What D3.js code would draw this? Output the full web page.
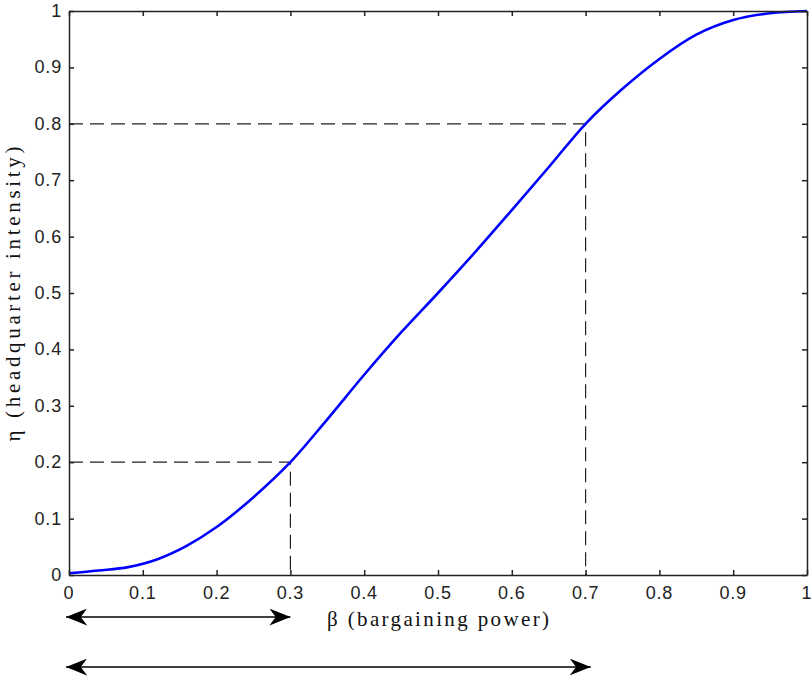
<!DOCTYPE html>
<html>
<head>
    <title>Headquarter intensity vs bargaining power</title>
    <script src="https://d3js.org/d3.v7.min.js"></script>
    <style>
        body { margin: 0; background: #fff; }
        .tick-label { font-family: "Liberation Sans", Arial, sans-serif; font-size: 18px; fill: #222; letter-spacing: 0.8px; }
        .axis-label { font-family: "Liberation Serif", "Times New Roman", serif; font-size: 21px; fill: #111; }
    </style>
</head>
<body>
    <div id="chart"></div>

    <script>
        // data
        var beta = [0, 0.04, 0.08, 0.12, 0.16, 0.2, 0.25, 0.3, 0.35, 0.4, 0.45, 0.5,
                    0.55, 0.6, 0.65, 0.7, 0.75, 0.8, 0.85, 0.9, 0.95, 1];
        var eta  = [0.003, 0.008, 0.014, 0.028, 0.052, 0.085, 0.138, 0.2, 0.276, 0.355, 0.43, 0.5,
                    0.572, 0.647, 0.723, 0.8, 0.862, 0.915, 0.958, 0.984, 0.996, 1.0];
        var xTicks = [0, 0.1, 0.2, 0.3, 0.4, 0.5, 0.6, 0.7, 0.8, 0.9, 1];
        var yTicks = [0, 0.1, 0.2, 0.3, 0.4, 0.5, 0.6, 0.7, 0.8, 0.9, 1];
        // dashed guides: [beta, eta]
        var guides = [[0.3, 0.2], [0.7, 0.8]];
        // double arrows below the axis: [from, to]
        var arrows = [[-0.004, 0.3], [-0.004, 0.707]];

        var W = 811, H = 679;
        var margin = {top: 11, right: 4, bottom: 104, left: 69},
            width = W - margin.left - margin.right,
            height = H - margin.top - margin.bottom;

        var svg = d3.select("#chart")
                    .append("svg")
                    .attr("width", W)
                    .attr("height", H);

        svg.append("rect").attr("width", W).attr("height", H).attr("fill", "#fff");

        var g = svg.append("g")
                   .attr("transform", "translate(" + margin.left + "," + margin.top + ")");

        var x = d3.scaleLinear().domain([0, 1]).range([0, width]);
        var y = d3.scaleLinear().domain([0, 1]).range([height, 0]);

        // dashed guide lines
        guides.forEach(function(p) {
            g.append("path")
             .attr("d", d3.line()([[x(0), y(p[1])], [x(p[0]), y(p[1])], [x(p[0]), y(0)]]))
             .attr("fill", "none")
             .attr("stroke", "#222")
             .attr("stroke-width", 1.2)
             .attr("stroke-dasharray", "14,7");
        });

        // curve
        var pts = beta.map(function(b, i) { return [b, eta[i]]; });
        g.append("path")
         .datum(pts)
         .attr("d", d3.line()
                      .x(function(d) { return x(d[0]); })
                      .y(function(d) { return y(d[1]); })
                      .curve(d3.curveMonotoneX))
         .attr("fill", "none")
         .attr("stroke", "#0000ff")
         .attr("stroke-width", 2.6);

        // axes with inward ticks, box on all sides
        var xAxisB = d3.axisBottom(x).tickValues(xTicks).tickSizeInner(-5).tickSizeOuter(0).tickFormat("");
        var xAxisT = d3.axisTop(x).tickValues(xTicks).tickSizeInner(-5).tickSizeOuter(0).tickFormat("");
        var yAxisL = d3.axisLeft(y).tickValues(yTicks).tickSizeInner(-5).tickSizeOuter(0).tickFormat("");
        var yAxisR = d3.axisRight(y).tickValues(yTicks).tickSizeInner(-5).tickSizeOuter(0).tickFormat("");

        g.append("g").attr("transform", "translate(0," + height + ")").call(xAxisB);
        g.append("g").call(xAxisT);
        g.append("g").call(yAxisL);
        g.append("g").attr("transform", "translate(" + width + ",0)").call(yAxisR);

        g.selectAll(".domain, .tick line")
         .attr("stroke", "#222")
         .attr("stroke-width", 1.5);

        // tick labels
        g.selectAll(".xlab")
         .data(xTicks)
         .enter()
         .append("text")
         .attr("class", "tick-label")
         .attr("x", function(d) { return x(d); })
         .attr("y", height + 24)
         .attr("text-anchor", "middle")
         .text(function(d) { return d; });

        g.selectAll(".ylab")
         .data(yTicks)
         .enter()
         .append("text")
         .attr("class", "tick-label")
         .attr("x", -7)
         .attr("y", function(d) { return y(d) + 6; })
         .attr("text-anchor", "end")
         .text(function(d) { return d; });

        // axis titles
        svg.append("text")
           .attr("class", "axis-label")
           .attr("x", margin.left + width / 2)
           .attr("y", 626)
           .attr("text-anchor", "middle")
           .attr("textLength", 222)
           .attr("lengthAdjust", "spacing")
           .text("β (bargaining power)");

        svg.append("text")
           .attr("class", "axis-label")
           .attr("transform", "translate(20," + (margin.top + height / 2 + 1) + ") rotate(-90)")
           .attr("text-anchor", "middle")
           .attr("textLength", 295)
           .attr("lengthAdjust", "spacing")
           .text("η (headquarter intensity)");

        // double-headed arrows
        svg.append("defs").append("marker")
           .attr("id", "head")
           .attr("viewBox", "0 0 20 16")
           .attr("refX", 20).attr("refY", 8)
           .attr("markerWidth", 21).attr("markerHeight", 17)
           .attr("markerUnits", "userSpaceOnUse")
           .attr("orient", "auto-start-reverse")
           .append("path")
           .attr("d", "M0,0 L20,8 L0,16 L6,8 Z")
           .attr("fill", "#000");

        var arrowY = [617, 667];
        arrows.forEach(function(a, i) {
            svg.append("line")
               .attr("x1", margin.left + x(a[0]))
               .attr("x2", margin.left + x(a[1]))
               .attr("y1", arrowY[i]).attr("y2", arrowY[i])
               .attr("stroke", "#000")
               .attr("stroke-width", 1.3)
               .attr("marker-start", "url(#head)")
               .attr("marker-end", "url(#head)");
        });
    </script>
</body>
</html>
